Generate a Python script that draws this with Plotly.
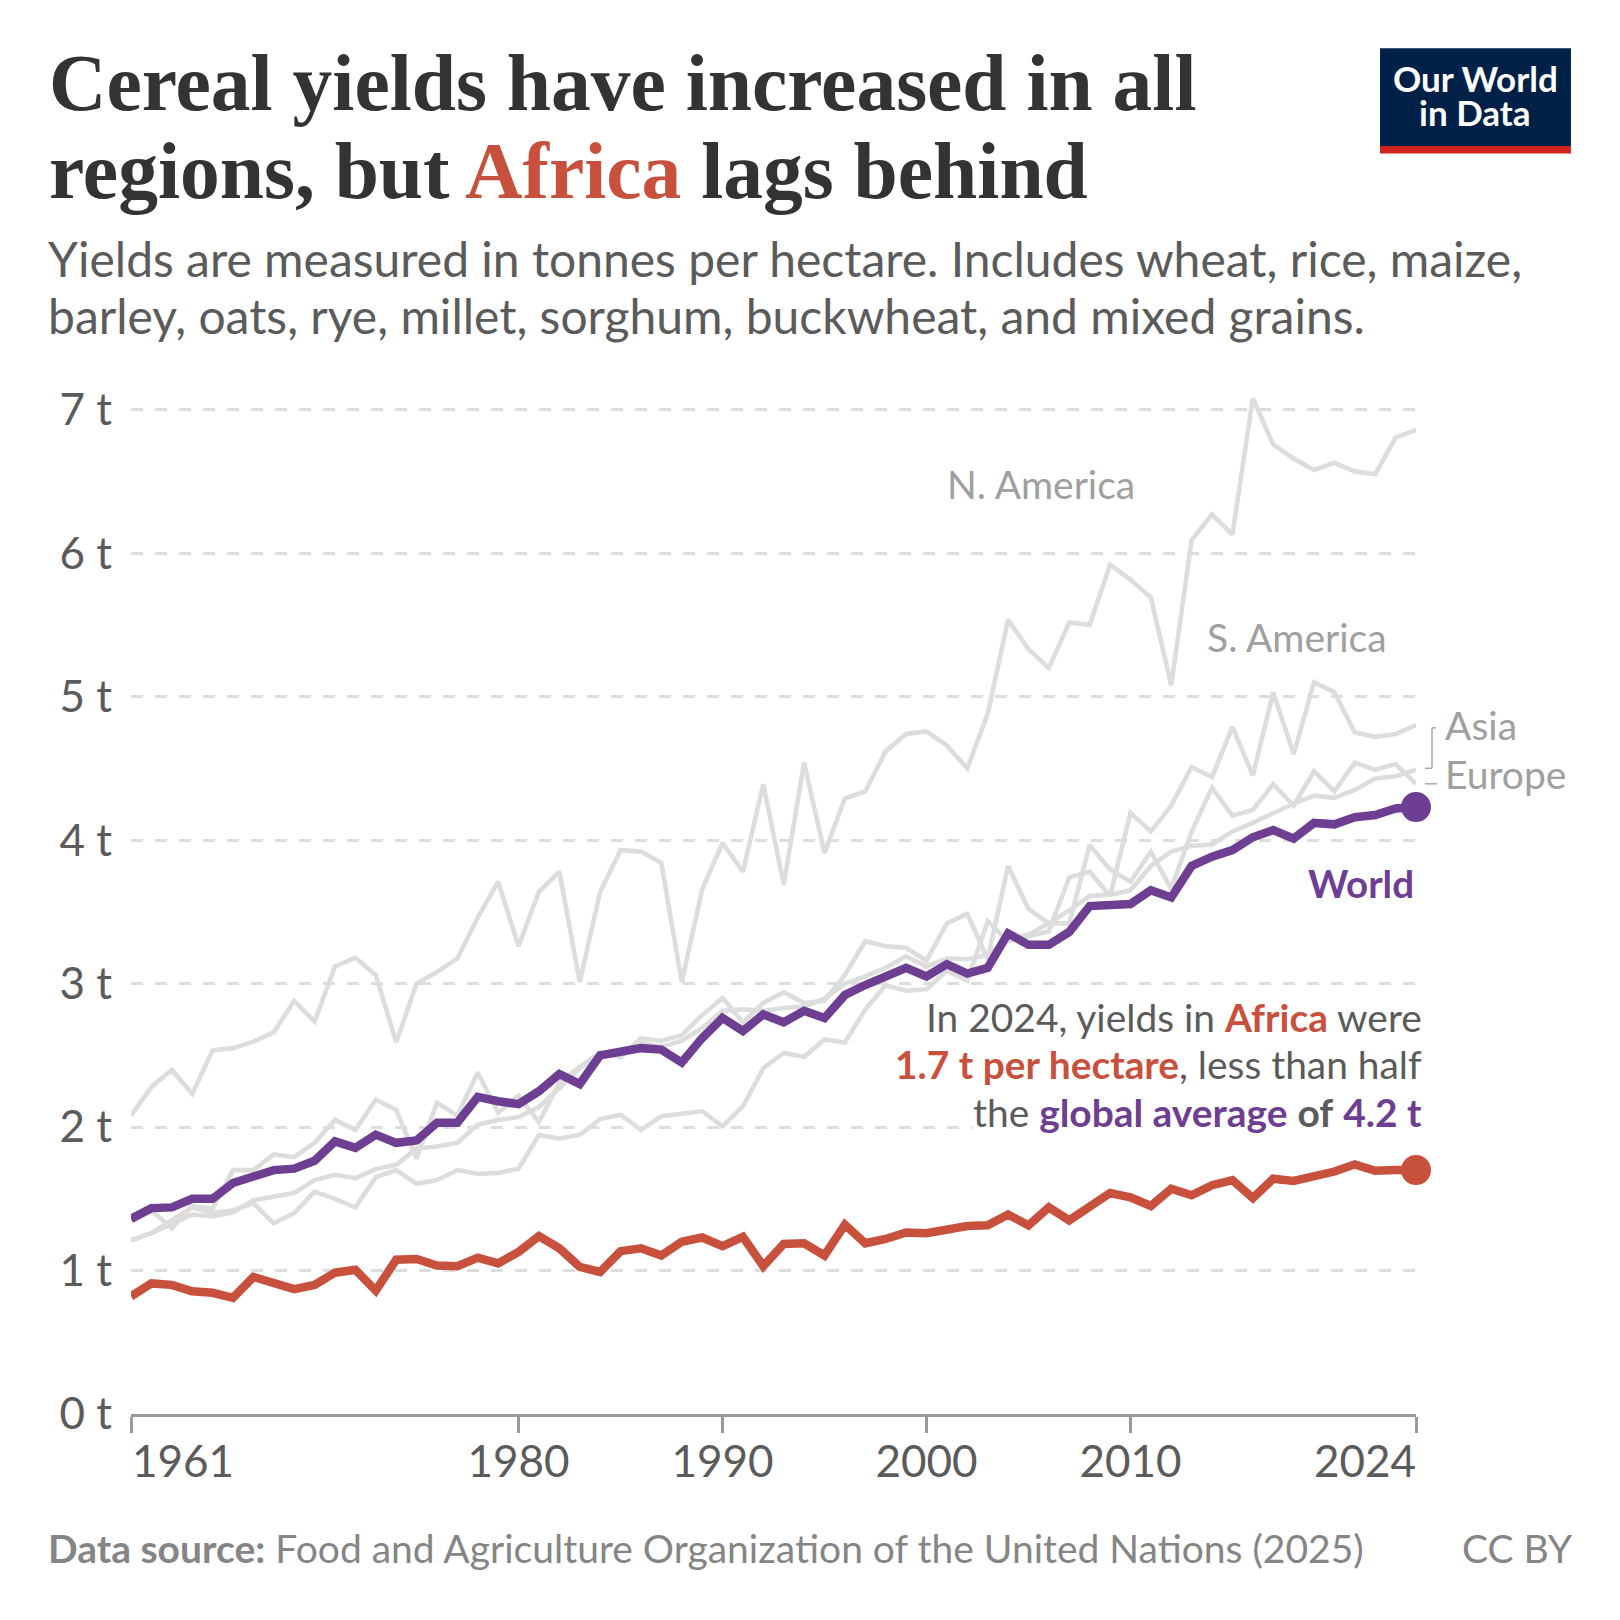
import plotly.graph_objects as go

years = list(range(1961, 2025))

world = [1.36, 1.435, 1.44, 1.50, 1.50, 1.61, 1.655, 1.70, 1.71, 1.765,
         1.90, 1.855, 1.947, 1.89, 1.907, 2.03, 2.03, 2.21, 2.18, 2.16,
         2.25, 2.37, 2.30, 2.50, 2.525, 2.55, 2.54, 2.45, 2.62, 2.76,
         2.67, 2.785, 2.73, 2.81, 2.76, 2.92, 2.99, 3.05, 3.11, 3.05,
         3.135, 3.07, 3.11, 3.35, 3.27, 3.27, 3.36, 3.54, 3.55, 3.555,
         3.65, 3.60, 3.82, 3.885, 3.93, 4.02, 4.07, 4.01, 4.12, 4.11,
         4.16, 4.175, 4.22, 4.23]

africa = [0.82, 0.91, 0.90, 0.855, 0.845, 0.81, 0.955, 0.91, 0.87, 0.90,
          0.985, 1.005, 0.86, 1.075, 1.08, 1.035, 1.03, 1.09, 1.05, 1.13,
          1.24, 1.155, 1.025, 0.99, 1.135, 1.155, 1.105, 1.20, 1.23, 1.17,
          1.235, 1.03, 1.185, 1.19, 1.105, 1.32, 1.19, 1.22, 1.265, 1.26,
          1.285, 1.31, 1.315, 1.39, 1.315, 1.44, 1.35, 1.45, 1.54, 1.51,
          1.45, 1.57, 1.525, 1.595, 1.63, 1.505, 1.64, 1.625, 1.65, 1.69,
          1.74, 1.695, 1.70, 1.70]

n_america = [2.08, 2.28, 2.40, 2.23, 2.535, 2.55, 2.595, 2.66, 2.88, 2.735,
             3.12, 3.18, 3.06, 2.59, 3.0, 3.08, 3.175, 3.46, 3.71, 3.26,
             3.64, 3.78, 3.01, 3.64, 3.93, 3.92, 3.84, 3.01, 3.655, 3.98,
             3.78, 4.39, 3.69, 4.54, 3.91, 4.29, 4.34, 4.62, 4.74, 4.757,
             4.66, 4.50, 4.88, 5.536, 5.33, 5.20, 5.517, 5.50, 5.92, 5.816,
             5.69, 5.08, 6.09, 6.27, 6.13, 7.08, 6.757, 6.66, 6.58, 6.63,
             6.57, 6.55, 6.806, 6.86]

s_america = [1.21, 1.26, 1.35, 1.44, 1.40, 1.42, 1.47, 1.33, 1.40, 1.55,
             1.50, 1.44, 1.65, 1.70, 1.605, 1.63, 1.70, 1.675, 1.68, 1.71,
             1.945, 1.92, 1.945, 2.056, 2.086, 1.98, 2.075, 2.09, 2.11, 2.005,
             2.145, 2.41, 2.516, 2.49, 2.61, 2.59, 2.82, 2.99, 2.95, 2.96,
             3.09, 3.02, 3.435, 3.295, 3.33, 3.365, 3.74, 3.78, 3.61, 4.19,
             4.06, 4.24, 4.51, 4.44, 4.79, 4.45, 5.03, 4.60, 5.10, 5.03,
             4.75, 4.72, 4.74, 4.80]

asia = [1.21, 1.26, 1.325, 1.39, 1.377, 1.405, 1.49, 1.515, 1.54, 1.63,
        1.667, 1.644, 1.707, 1.737, 1.85, 1.865, 1.89, 2.016, 2.05, 2.07,
        2.14, 2.27, 2.41, 2.51, 2.53, 2.585, 2.56, 2.6, 2.69, 2.81,
        2.82, 2.81, 2.83, 2.84, 2.895, 3.0, 3.05, 3.11, 3.19, 3.12,
        3.175, 3.17, 3.2, 3.31, 3.34, 3.42, 3.51, 3.61, 3.62, 3.65,
        3.82, 3.92, 3.96, 3.97, 4.06, 4.12, 4.19, 4.255, 4.31, 4.295,
        4.35, 4.43, 4.445, 4.49]

europe = [1.36, 1.42, 1.295, 1.45, 1.43, 1.70, 1.70, 1.81, 1.79, 1.89,
          2.05, 1.98, 2.19, 2.12, 1.78, 2.17, 2.08, 2.38, 2.10, 2.22,
          2.035, 2.31, 2.42, 2.52, 2.486, 2.62, 2.6, 2.64, 2.78, 2.90,
          2.73, 2.865, 2.94, 2.865, 2.88, 3.06, 3.295, 3.26, 3.25, 3.16,
          3.42, 3.486, 3.17, 3.82, 3.52, 3.42, 3.42, 3.965, 3.795, 3.71,
          3.92, 3.66, 4.06, 4.365, 4.17, 4.21, 4.39, 4.24, 4.48, 4.34,
          4.54, 4.49, 4.53, 4.39]

x_ticks = [1961, 1980, 1990, 2000, 2010, 2024]
x_labels = ["", "1980", "1990", "2000", "2010", ""]
y_ticks = [0, 1, 2, 3, 4, 5, 6, 7]
y_labels = ["0 t", "1 t", "2 t", "3 t", "4 t", "5 t", "6 t", "7 t"]

GREY = "#dddddd"
PURPLE = "#6d3e91"
RED = "#c8513d"
TEXT = "#5b5b5b"
LABEL = "#a0a0a0"
FOOT = "#858585"

# plot area in page pixels
LEFT, RIGHT, TOP, BOTTOM = 130.5, 1416, 381, 1414.5


def px(x):
    return (x - LEFT) / (RIGHT - LEFT)


def py(y):
    return (BOTTOM - y) / (BOTTOM - TOP)


def note(x, y, text, size, color=TEXT, anchor="left", family="Lato", bg=None):
    return dict(xref="paper", yref="paper", x=px(x), y=py(y), text=text, showarrow=False,
                xanchor=anchor, yanchor="middle", align=anchor, xshift=0, yshift=0,
                bgcolor=bg, borderpad=0,
                font=dict(family=family, size=size, color=color))


fig = go.Figure()
for name, vals in [("N. America", n_america), ("S. America", s_america), ("Asia", asia), ("Europe", europe)]:
    fig.add_trace(go.Scatter(x=years, y=vals, mode="lines", name=name, cliponaxis=False,
                             line=dict(color=GREY, width=4.6)))

for name, vals, col in [("World", world, PURPLE), ("Africa", africa, RED)]:
    fig.add_trace(go.Scatter(x=years, y=vals, mode="lines", name=name, cliponaxis=False,
                             line=dict(color=col, width=8.5)))
    fig.add_trace(go.Scatter(x=years[-1:], y=vals[-1:], mode="markers", name=name, cliponaxis=False,
                             marker=dict(color=col, size=30)))

TITLE_FONT = "Liberation Serif"
annotations = [
    note(47, 83, "<b>Cereal yields have increased in all</b>", 79.5, "#333333", family=TITLE_FONT),
    note(47, 171, "<b>regions, but <span style='color:%s'>Africa</span> lags behind</b>" % RED, 79.5, "#333333",
         family=TITLE_FONT),
    note(46, 258, "Yields are measured in tonnes per hectare. Includes wheat, rice, maize,", 48),
    note(46, 315, "barley, oats, rye, millet, sorghum, buckwheat, and mixed grains.", 48),
    note(1475.5, 77.5, "<b>Our World</b>", 35, "white", "center"),
    note(1475.5, 112, "<b>in Data</b>", 35, "white", "center"),
    note(946, 484, "N. America", 39, LABEL),
    note(1206, 637, "S. America", 39, LABEL),
    note(1444, 725, "Asia", 39, LABEL),
    note(1444, 774, "Europe", 39, LABEL),
    note(1415, 883, "<b>World</b>", 38.5, PURPLE, "right"),
    note(1423, 1017, "In 2024, yields in <b style='color:%s'>Africa</b> were" % RED, 38.9, TEXT, "right"),
    note(1423, 1064.5, "<b style='color:%s'>1.7 t per hectare</b>, less than half" % RED, 38.9, TEXT, "right"),
    note(1423, 1112, "the <b style='color:%s'>global average</b> <b>of</b> <b style='color:%s'>4.2 t</b>" % (PURPLE, PURPLE),
         38.9, TEXT, "right", bg="white"),
    note(130, 1461, "1961", 44, TEXT),
    note(1417, 1461, "2024", 44, TEXT, "right"),
    note(46.5, 1549, "<b>Data source:</b> Food and Agriculture Organization of the United Nations (2025)", 39, FOOT),
    note(1574, 1549, "CC BY", 39, FOOT, "right"),
]


def box(x0, y0, x1, y1, fill):
    return dict(type="rect", xref="paper", yref="paper", x0=px(x0), x1=px(x1), y0=py(y0), y1=py(y1),
                fillcolor=fill, line=dict(width=0), layer="above")


def seg(x0, y0, x1, y1):
    return dict(type="line", xref="paper", yref="paper", x0=px(x0), x1=px(x1), y0=py(y0), y1=py(y1),
                line=dict(color="#aaaaaa", width=1.5))


shapes = [
    box(1380, 48, 1571, 146, "#002147"),
    box(1380, 146, 1571, 153.5, "#ce261e"),
    seg(1425, 768.5, 1432, 768.5),
    seg(1432, 768.5, 1432, 728),
    seg(1432, 728, 1436, 728),
    seg(1425, 784, 1437, 784),
]

fig.update_layout(
    width=1620, height=1620, autosize=False, showlegend=False,
    paper_bgcolor="white", plot_bgcolor="white",
    margin=dict(l=LEFT, r=1620 - RIGHT, t=TOP, b=1620 - BOTTOM, pad=0),
    font=dict(family="Lato", color=TEXT),
    annotations=annotations, shapes=shapes,
)
fig.update_xaxes(range=[1961, 2024], tickmode="array", tickvals=x_ticks, ticktext=x_labels,
                 showgrid=False, zeroline=False, showline=True, linecolor="#999999", linewidth=2.5,
                 ticks="outside", ticklen=16, tickwidth=2.5, tickcolor="#999999", ticklabelstandoff=-9,
                 tickfont=dict(family="Lato", size=44, color=TEXT))
fig.update_yaxes(range=[0, 7.2], tickmode="array", tickvals=y_ticks, ticktext=y_labels,
                 showgrid=True, gridcolor=GREY, gridwidth=2.5, griddash="12px,12px",
                 zeroline=False, showline=False, ticks="", ticklabelstandoff=18,
                 tickfont=dict(family="Lato", size=44, color=TEXT))

# page default margin would shift the whole figure by 8px
fig.write_html("out.html", config={"displayModeBar": False},
               post_script="document.body.style.margin = '0';")
